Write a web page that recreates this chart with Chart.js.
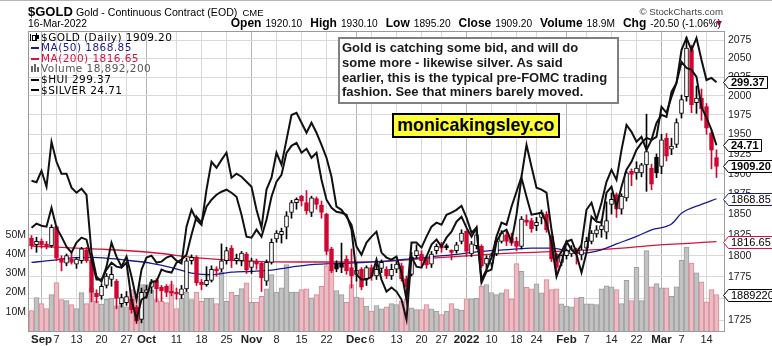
<!DOCTYPE html>
<html><head><meta charset="utf-8">
<script src="https://cdn.jsdelivr.net/npm/chart.js@4.4.1/dist/chart.umd.min.js"></script>
<style>
html,body{margin:0;padding:0;background:#fff;}
#wrap{position:relative;width:772px;height:346px;overflow:hidden;font-family:"Liberation Sans",Arial,sans-serif;color:#000;}
#c{position:absolute;left:0;top:0;}
.a{position:absolute;white-space:nowrap;}
.lg{position:absolute;white-space:nowrap;font-family:"DejaVu Sans",Verdana,sans-serif;font-size:10.5px;line-height:10.5px;letter-spacing:0.45px;}
.mk{position:absolute;left:31px;width:8px;height:2px;}
#ohlc b{font-size:12px;}
#ohlc span{font-size:10.2px;margin-left:4px;margin-right:8px;}
</style></head><body>
<div id="wrap">
<canvas id="c" width="772" height="346"></canvas>
<div class="a" style="left:0;top:0;width:772px;height:1px;background:#b5b5b5"></div>
<div class="a" style="left:28px;top:5px;font-size:13px;line-height:13px;font-weight:bold">$GOLD</div>
<div class="a" style="left:76px;top:7px;font-size:10.6px;line-height:10.6px">Gold - Continuous Contract (EOD)</div>
<div class="a" style="left:242.5px;top:8px;font-size:9.5px;line-height:9.5px">CME</div>
<div class="a" style="left:28px;top:18.8px;font-size:10.3px;line-height:10.3px">16-Mar-2022</div>
<div class="a" style="right:49px;top:6.8px;font-size:9.7px;line-height:9.7px;color:#444">© StockCharts.com</div>
<div class="a" id="ohlc" style="right:51px;top:17.3px;font-size:12px;line-height:12px"><b>Open</b><span>1920.10</span><b>High</b><span>1930.10</span><b>Low</b><span>1895.20</span><b>Close</b><span>1909.20</span><b>Volume</b><span>18.9M</span><b>Chg</b><span style="margin-right:0">-20.50 (-1.06%)</span></div>
<div class="a" style="left:716px;top:21px;width:0;height:0;border-left:3.5px solid transparent;border-right:3.5px solid transparent;border-top:5px solid #a3002c"></div>

<div class="a" style="left:30px;top:34px;width:1px;height:7px;background:#000"></div>
<div class="a" style="left:32px;top:35px;width:2px;height:4px;border:1px solid #000;background:#fff"></div>
<div class="a" style="left:36px;top:33px;width:1px;height:8px;background:#000"></div>
<div class="a" style="left:37px;top:35px;width:2px;height:4px;background:#000"></div>
<div class="lg" style="left:41px;top:31.6px">$GOLD (Daily) 1909.20</div>
<div class="mk" style="top:47px;background:#1a1a8e"></div>
<div class="lg" style="left:41px;top:42.2px;color:#1a1a8e">MA(50) 1868.85</div>
<div class="mk" style="top:57.6px;background:#d4143c"></div>
<div class="lg" style="left:41px;top:52.8px;color:#d4143c">MA(200) 1816.65</div>
<div class="a" style="left:31px;top:66px;width:2px;height:6px;background:#666"></div>
<div class="a" style="left:34px;top:64px;width:2px;height:8px;background:#666"></div>
<div class="a" style="left:37px;top:67px;width:2px;height:5px;background:#666"></div>
<div class="lg" style="left:41px;top:63.4px;color:#555">Volume 18,892,200</div>
<div class="mk" style="top:78.8px;background:#000"></div>
<div class="lg" style="left:41px;top:74px">$HUI 299.37</div>
<div class="mk" style="top:89.4px;background:#000"></div>
<div class="lg" style="left:41px;top:84.6px">$SILVER 24.71</div>

<div class="a" style="left:338px;top:37px;width:281px;height:67px;box-sizing:border-box;border:2px solid #808080;background:#fff;padding:2px 0 0 2px;font-weight:bold;font-size:13px;line-height:14.8px;color:#1a1a1a">Gold is catching some bid, and will do<br>some more - likewise silver. As said<br>earlier, this is the typical pre-FOMC trading<br>fashion. See that miners barely moved.</div>
<div class="a" style="left:391.7px;top:113.3px;width:168.3px;height:25px;box-sizing:border-box;border:2px solid #000;background:#ffff38;font-weight:bold;font-size:17.7px;line-height:21px;text-align:center">monicakingsley.co</div>
</div>
<script>
const dates = ['2021-08-30','2021-08-31','2021-09-01','2021-09-02','2021-09-03','2021-09-07','2021-09-08','2021-09-09','2021-09-10','2021-09-13','2021-09-14','2021-09-15','2021-09-16','2021-09-17','2021-09-20','2021-09-21','2021-09-22','2021-09-23','2021-09-24','2021-09-27','2021-09-28','2021-09-29','2021-09-30',
'2021-10-01','2021-10-04','2021-10-05','2021-10-06','2021-10-07','2021-10-08','2021-10-11','2021-10-12','2021-10-13','2021-10-14','2021-10-15','2021-10-18','2021-10-19','2021-10-20','2021-10-21','2021-10-22','2021-10-25','2021-10-26','2021-10-27','2021-10-28','2021-10-29',
'2021-11-01','2021-11-02','2021-11-03','2021-11-04','2021-11-05','2021-11-08','2021-11-09','2021-11-10','2021-11-11','2021-11-12','2021-11-15','2021-11-16','2021-11-17','2021-11-18','2021-11-19','2021-11-22','2021-11-23','2021-11-24','2021-11-26','2021-11-29','2021-11-30',
'2021-12-01','2021-12-02','2021-12-03','2021-12-06','2021-12-07','2021-12-08','2021-12-09','2021-12-10','2021-12-13','2021-12-14','2021-12-15','2021-12-16','2021-12-17','2021-12-20','2021-12-21','2021-12-22','2021-12-23','2021-12-27','2021-12-28','2021-12-29','2021-12-30','2021-12-31',
'2022-01-03','2022-01-04','2022-01-05','2022-01-06','2022-01-07','2022-01-10','2022-01-11','2022-01-12','2022-01-13','2022-01-14','2022-01-18','2022-01-19','2022-01-20','2022-01-21','2022-01-24','2022-01-25','2022-01-26','2022-01-27','2022-01-28','2022-01-31',
'2022-02-01','2022-02-02','2022-02-03','2022-02-04','2022-02-07','2022-02-08','2022-02-09','2022-02-10','2022-02-11','2022-02-14','2022-02-15','2022-02-16','2022-02-17','2022-02-18','2022-02-22','2022-02-23','2022-02-24','2022-02-25','2022-02-28',
'2022-03-01','2022-03-02','2022-03-03','2022-03-04','2022-03-07','2022-03-08','2022-03-09','2022-03-10','2022-03-11','2022-03-14','2022-03-15','2022-03-16'];

const open = [1821,1813,1817,1814,1812,1835,1797,1791,1796,1790,1794,1807,1795,1756,1753,1765,1772,1770,1744,1745,1749,1740,1726,
1757,1763,1771,1763,1764,1758,1757,1754,1761,1794,1798,1769,1766,1771,1783,1784,1794,1809,1794,1794,1802,
1786,1794,1791,1770,1792,1820,1825,1834,1852,1864,1872,1864,1852,1869,1861,1850,1808,1790,1791,1796,1786,
1778,1784,1773,1786,1776,1785,1784,1776,1784,1788,1773,1778,1800,1802,1796,1790,1806,1811,1810.5,1805,1806,1817,
1829,1802,1812,1811,1790,1791,1802,1817,1825,1821,1817,1811,1843,1842,1836,1846,1850,1823,1802,1792,
1800,1802,1806,1801,1809,1817,1826,1831,1828,1862,1874,1856,1870,1903,1901,1901,1911,1907,1921,
1909,1945,1931,1937,1977,1999,2062,1991,1997,1986,1952,1920.1];
const high = [1824,1822,1820,1817,1837,1836,1800,1802,1803,1798,1810,1810,1797,1760,1767,1779,1787,1772,1755,1758,1752,1742,1762,
1765,1772,1773,1765,1766,1770,1762,1765,1797,1801,1800,1772,1787,1788,1787,1814,1810,1812,1802,1805,1804,
1797,1796,1793,1795,1820,1830,1833,1853,1867,1870,1873,1879,1872,1871,1866,1851,1810,1794,1815,1800,1808,
1792,1786,1788,1789,1790,1795,1787,1790,1793,1791,1776,1804,1813,1806,1799,1805,1814,1816,1814,1807,1816,1831,
1830,1817,1830,1813,1800,1803,1821,1830,1829,1827,1822,1847,1849,1845,1846,1855,1853,1825,1803,1801,
1808,1812,1809,1812,1822,1830,1836,1843,1865,1876,1876,1875,1903,1906,1915,1913,1976,1912,1925,
1950,1951,1945,1970,2001,2079,2068,2013,2009,1990,1955,1930.1];
const low = [1808,1804,1809,1808,1810,1794,1782,1788,1790,1785,1791,1792,1746,1745,1749,1762,1764,1738,1740,1742,1733,1721,1722,
1750,1756,1746,1747,1752,1753,1749,1750,1758,1790,1765,1760,1764,1769,1776,1781,1790,1786,1790,1788,1779,
1779,1784,1758,1765,1790,1816,1815,1820,1845,1856,1860,1850,1847,1856,1845,1801,1780,1781,1780,1778,1762,
1770,1760,1765,1771,1772,1780,1773,1772,1780,1770,1753,1776,1797,1788,1785,1786,1802,1804,1807,1795,1803,1814,
1799,1799,1808,1786,1783,1788,1800,1815,1812,1812,1806,1808,1836,1828,1830,1838,1828,1793,1780,1788,
1796,1799,1790,1795,1806,1814,1822,1822,1820,1850,1846,1850,1866,1885,1893,1896,1878,1880,1895,
1900,1916,1924,1933,1971,1993,1978,1977,1968,1950,1906,1895.2];
const close = [1812,1817,1813,1811,1834,1797,1792,1800,1792,1796,1808,1794,1757,1752,1764,1776,1778,1750,1751,1752,1737,1724,1757,
1760,1769,1761,1759,1757,1756,1755,1761,1794,1798,1768,1766,1771,1784,1782,1794,1806,1794,1797,1803,1783,
1794,1790,1774,1792,1816,1827,1829,1848,1864,1868,1866,1854,1870,1862,1852,1805,1782,1784,1786,1782,1776,
1783,1763,1786,1776,1784,1792,1776,1784,1790,1773,1763,1798,1806,1794,1789,1802,1811,1809,1809.5,1804,1813,1827,
1805,1814,1825,1788,1797,1800,1817,1827,1817,1815,1811,1844,1840,1832,1840,1852,1831,1796,1786,1800,
1806,1808,1802,1807,1817,1827,1831,1836,1842,1868,1856,1872,1901,1899,1907,1911,1928,1887,1901,
1943,1922,1935,1965,1995,2064,1988,1997,1983,1958,1929.7,1909.2];

const volumeM = [10.6,17.4,14.2,11.7,18.9,25.1,16.3,15.8,13.7,11.7,19.9,14.2,22.4,15.5,14.0,16.5,17.0,13.0,14.5,12.5,21.5,18.0,24.1,
24.1,21.2,16.3,15.4,14.7,24.1,11.7,16.9,20.2,16.3,20.2,15.4,16.9,17.1,14.2,30.5,15.4,20.2,18.5,22.0,25.0,
14.9,14.9,18.0,21.9,29.3,20.2,22.4,34.5,20.2,20.2,21.5,21.9,17.2,18.9,23.2,33.9,31.5,21.0,18.9,14.9,24.1,
17.6,17.2,12.9,10.3,13.2,11.5,12.5,14.2,13.7,15.4,16.7,12.0,11.1,11.1,13.7,11.5,10.3,8.5,10.3,14.2,11.5,10.8,
16.7,16.7,17.0,23.2,24.1,20.0,18.9,19.8,21.5,16.7,35.0,31.0,22.7,21.9,24.5,19.8,26.7,21.5,21.9,14.1,
12.9,12.5,17.2,17.5,14.1,14.1,13.7,21.9,23.4,22.9,21.5,14.2,26.3,15.8,33.1,15.8,41.7,22.9,24.6,
22.4,22.4,18.0,22.9,36.7,43.6,35.3,30.2,25.5,15.1,21.5,18.8922];

const ma50Idx = [0,4,8,12,16,20,24,28,32,36,40,44,48,52,56,60,64,70,77,84,90,96,100,104,107,110,114,117,121,124,128,130,134,137];
const ma50Val = [1792,1794.5,1797.5,1798,1796.5,1794,1791,1786,1779.5,1777.5,1780.5,1781.5,1783,1786.5,1789.5,1790.5,1791.3,1793.2,1797.2,1801,1805,1807.5,1809,1809,1806,1803,1807,1814,1823,1831,1838,1851,1862,1868.85];
const ma200Idx = [0,14,24,34,46,57,70,77,87,96,107,114,120,125,137];
const ma200Val = [1811.5,1807.7,1803.8,1797,1793,1792.5,1793,1796,1799.8,1803,1805.6,1807.5,1810,1812.5,1816.65];

const hui = [257.9,257.3,262.1,255.4,274.3,265.9,260.9,260.9,255.0,252.9,254.6,252.0,227.7,217.6,215.5,221.8,231.9,226.0,221.8,226.0,217.6,207.9,220.5,
225.6,226.4,223.5,223.9,225.6,226.4,224.3,223.1,238.6,245.7,241.5,239.4,254.2,265.9,263.4,266.7,269.7,259.2,260.9,259.6,257.5,
255.4,245.7,238.2,254.2,259.2,269.7,264.7,275.1,285.6,286.5,282.3,278.1,282.3,278.1,273.0,267.6,259.6,247.0,245.7,242.8,239.4,
230.2,226.8,231.9,234.4,236.5,227.7,225.6,224.7,226.0,219.3,207.9,231.9,231.9,229.8,234.4,238.6,240.3,239.4,243.6,244.5,245.7,247.4,
242.4,236.1,238.2,216.3,220.5,225.6,234.4,240.3,239.4,247.0,253.3,259.6,273.0,263.8,255.0,254.2,252.9,237.3,224.7,228.1,
232.3,233.1,227.7,231.0,245.7,248.7,241.5,248.7,257.5,262.5,258.3,270.9,281.4,278.5,274.3,276.4,270.9,275.1,276.4,
289.0,286.5,293.2,299.1,312.9,318.0,312.9,318.0,308.7,300.3,301.2,299.37];

const silver = [23.06,23.14,23.10,23.08,23.46,23.06,22.88,22.68,22.56,22.76,22.86,22.82,22.42,22.02,22.02,22.22,22.36,22.28,22.26,22.36,21.62,21.22,21.62,
21.68,21.98,21.98,22.22,22.18,22.16,22.36,22.42,22.52,22.92,23.28,23.16,23.48,23.62,23.72,23.78,23.82,23.76,23.68,23.32,22.88,
22.86,23.02,22.88,23.22,23.68,23.98,24.12,24.56,24.70,24.76,24.56,24.64,24.46,24.56,24.02,23.62,23.46,23.38,23.36,23.32,23.02,
22.12,22.02,22.02,22.08,22.42,22.02,21.78,21.86,21.78,21.62,21.22,22.48,22.28,22.26,22.48,22.72,22.82,22.68,22.86,22.98,23.18,23.28,
23.06,22.88,23.06,21.96,22.18,22.22,22.78,22.96,23.02,22.78,23.32,24.06,23.68,23.32,23.34,23.36,23.16,22.76,22.08,22.36,
22.78,22.62,22.52,22.16,22.56,23.28,23.18,23.16,23.76,23.88,23.48,23.88,24.22,24.38,24.62,24.76,24.86,24.82,25.16,
25.32,25.28,25.78,25.96,26.38,26.26,26.22,26.08,25.48,25.26,25.02,24.71];

const priceTicks = [1725,1750,1775,1800,1825,1850,1875,1900,1925,1950,1975,2000,2025,2050,2075];
const volTicks = [10,20,30,40,50];
const xTickIdx = [2,5,9,14,19,23,29,34,39,44,49,54,59,65,68,73,78,82,87,92,97,101,107,111,116,121,126,130,135];
const xTickText = ['Sep','7','13','20','27','Oct','11','18','25','Nov','8','15','22','Dec','6','13','20','27','2022','10','18','24','Feb','7','14','22','Mar','7','14'];
const monthTickIdx = [2,23,44,65,87,107,126];

// ---- build tables for the library ----
const N = dates.length;
const labels = dates.concat(['']);
const tickMap = new Map(xTickIdx.map((k, j) => [k, xTickText[j]]));
const monthSet = new Set(monthTickIdx);
const RED = '#d0052f', BLK = '#000000';
const up = close.map((c, i) => c >= (i ? close[i - 1] : open[i]));
const hollow = close.map((c, i) => c > open[i]);
const candleCol = up.map(u => u ? BLK : RED);
const bodyFill = hollow.map((h, i) => h ? '#ffffff' : candleCol[i]);
const wickData = low.map((l, i) => [l, high[i]]);
const bodyData = open.map((o, i) => [Math.min(o, close[i]), Math.max(o, close[i])]);
function sparse(idx, val) { const a = new Array(N).fill(null); idx.forEach((k, j) => { a[k] = val[j]; }); return a; }

Chart.defaults.font.family = '"Liberation Sans", Arial, sans-serif';

function tag(ctx, y, text, color, bold) {
  y = Math.round(y) + 0.5;
  ctx.save();
  ctx.font = (bold ? 'bold ' : '') + '11px "Liberation Sans", Arial, sans-serif';
  const w = ctx.measureText(text).width;
  const x0 = 723.5, ar = 5, h = 6;
  const x1 = Math.round(x0 + ar + w + 5) + 0.5;
  ctx.beginPath();
  ctx.moveTo(x0, y); ctx.lineTo(x0 + ar, y - h); ctx.lineTo(x1, y - h); ctx.lineTo(x1, y + h); ctx.lineTo(x0 + ar, y + h); ctx.closePath();
  ctx.fillStyle = '#fff'; ctx.fill();
  ctx.lineWidth = 1; ctx.strokeStyle = color; ctx.stroke();
  ctx.fillStyle = '#000'; ctx.textBaseline = 'middle'; ctx.textAlign = 'left';
  ctx.fillText(text, x0 + ar + 2.5, y + 0.5);
  ctx.restore();
}

const overlay = {
  id: 'overlay',
  afterDraw(chart) {
    const { ctx, chartArea: a, scales } = chart;
    ctx.save();
    ctx.strokeStyle = '#9a9a9a'; ctx.lineWidth = 1;
    ctx.strokeRect(Math.round(a.left) - 0.5, Math.round(a.top) - 0.5, Math.round(a.right - a.left) + 1, Math.round(a.bottom - a.top) + 1);
    ctx.restore();
    const last = N - 1;
    tag(ctx, scales.yHUI.getPixelForValue(hui[last]), hui[last].toFixed(2), '#000', true);
    tag(ctx, scales.ySIL.getPixelForValue(silver[last]), silver[last].toFixed(2), '#000', true);
    tag(ctx, scales.y.getPixelForValue(close[last]), close[last].toFixed(2), '#000', true);
    tag(ctx, scales.y.getPixelForValue(ma50Val[ma50Val.length - 1]), ma50Val[ma50Val.length - 1].toFixed(2), '#1a1a8e', false);
    tag(ctx, scales.y.getPixelForValue(ma200Val[ma200Val.length - 1]), ma200Val[ma200Val.length - 1].toFixed(2), '#d4143c', false);
    tag(ctx, scales.yVol.getPixelForValue(volumeM[last]), String(Math.round(volumeM[last] * 1e6)).slice(0, 7), '#000', false);
  }
};

new Chart(document.getElementById('c'), {
  type: 'bar',
  data: {
    labels,
    datasets: [
      { type: 'bar', label: 'Volume', data: volumeM, yAxisID: 'yVol', grouped: false, order: 10,
        backgroundColor: up.map(u => u ? '#c2c2c2' : '#ecbcc4'), borderColor: up.map(u => u ? '#9c9c9c' : '#d98898'),
        borderWidth: 1, barPercentage: 1, categoryPercentage: 1 },
      { type: 'line', label: 'MA(200)', data: sparse(ma200Idx, ma200Val), yAxisID: 'y', order: 8,
        borderColor: '#d4143c', borderWidth: 1.3, pointRadius: 0, spanGaps: true, cubicInterpolationMode: 'monotone' },
      { type: 'line', label: 'MA(50)', data: sparse(ma50Idx, ma50Val), yAxisID: 'y', order: 7,
        borderColor: '#1a1a8e', borderWidth: 1.3, pointRadius: 0, spanGaps: true, cubicInterpolationMode: 'monotone' },
      { type: 'bar', label: 'wick', data: wickData, yAxisID: 'y', grouped: false, order: 4,
        backgroundColor: candleCol, borderWidth: 0, barThickness: 1 },
      { type: 'bar', label: '$GOLD', data: bodyData, yAxisID: 'y', grouped: false, order: 3,
        backgroundColor: bodyFill, borderColor: candleCol, borderWidth: 1, borderSkipped: false, barThickness: 4, minBarLength: 2 },
      { type: 'line', label: '$HUI', data: hui, yAxisID: 'yHUI', order: 1,
        borderColor: '#111', borderWidth: 2, pointRadius: 0, tension: 0 },
      { type: 'line', label: '$SILVER', data: silver, yAxisID: 'ySIL', order: 1,
        borderColor: '#111', borderWidth: 2, pointRadius: 0, tension: 0 }
    ]
  },
  options: {
    responsive: false, animation: false, devicePixelRatio: 1,
    layout: { padding: { top: 32, left: 0, right: 0, bottom: 0 } },
    plugins: { legend: { display: false }, tooltip: { enabled: false }, title: { display: false } },
    scales: {
      x: {
        type: 'category', offset: true,
        grid: { offset: false, drawTicks: false, lineWidth: 1,
          color: c => tickMap.has(c.index) ? (monthSet.has(c.index) ? '#b4b4b4' : '#d9d9d9') : 'rgba(0,0,0,0)' },
        border: { display: false },
        ticks: { autoSkip: false, maxRotation: 0, minRotation: 0, padding: 2, color: '#222',
          font: c => ({ family: '"Liberation Sans", Arial, sans-serif', size: monthSet.has(c.index) ? 11.5 : 11, weight: monthSet.has(c.index) ? 'bold' : 'normal' }),
          callback: (v, i) => tickMap.has(i) ? tickMap.get(i) : '' },
        afterFit: s => { s.height = 15; }
      },
      y: {
        type: 'logarithmic', position: 'right', min: 1712.8, max: 2086,
        afterBuildTicks: s => { s.ticks = priceTicks.map(v => ({ value: v })); },
        grid: { color: '#d9d9d9', drawTicks: false }, border: { display: false },
        ticks: { padding: 4, color: '#222', autoSkip: false, font: { size: 10.5 }, callback: v => String(v) },
        afterFit: s => { s.width = 48; }
      },
      yVol: {
        type: 'linear', position: 'left', min: 0, max: 155.2,
        afterBuildTicks: s => { s.ticks = volTicks.map(v => ({ value: v })); },
        grid: { display: false, drawTicks: false }, border: { display: false },
        ticks: { padding: 3, color: '#222', font: { size: 10.5 }, callback: v => v + 'M' },
        afterFit: s => { s.width = 29; }
      },
      yHUI: { type: 'linear', display: false, min: 194.71, max: 320.5 },
      ySIL: { type: 'linear', display: false, min: 20.99, max: 26.98 }
    }
  },
  plugins: [overlay]
});
</script>
</body></html>
